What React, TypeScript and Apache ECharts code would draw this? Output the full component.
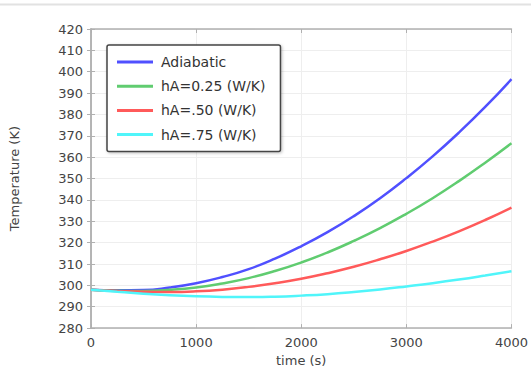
import React, { useEffect, useRef } from "react";
import * as echarts from "echarts";

const times = [0, 250, 500, 750, 1000, 1250, 1500, 1750, 2000, 2250, 2500, 2750, 3000, 3250, 3500, 3750, 4000];
const adiabatic = [298, 297.7, 297.8, 299.0, 301.0, 303.9, 307.6, 312.5, 318.3, 324.9, 332.4, 340.8, 350.2, 360.4, 371.5, 383.5, 396.5];
const hA025 = [298, 297.5, 297.4, 297.9, 299.0, 300.9, 303.4, 306.7, 310.7, 315.4, 320.8, 326.8, 333.5, 340.8, 348.8, 357.4, 366.5];
const hA050 = [298, 297.4, 297.0, 296.9, 297.2, 298.0, 299.3, 301.0, 303.1, 305.7, 308.7, 312.2, 316.1, 320.5, 325.3, 330.6, 336.4];
const hA075 = [298, 297.0, 296.1, 295.4, 294.9, 294.6, 294.5, 294.7, 295.2, 295.9, 296.9, 298.1, 299.5, 301.0, 302.7, 304.6, 306.6];
const seriesNames = ["Adiabatic", "hA=0.25 (W/K)", "hA=.50 (W/K)", "hA=.75 (W/K)"];
const seriesColors = ["#5050ff", "#60cc70", "#ff5a5a", "#50f5fa"];

const FONT = "DejaVu Sans";

export default function App() {
  const ref = useRef<HTMLDivElement>(null);
  useEffect(() => {
    document.body.style.margin = "0";
    const chart = echarts.init(ref.current!, null, { renderer: "svg" });
    const values = [adiabatic, hA025, hA050, hA075];
    const axisLine = { show: true, lineStyle: { color: "#b0b0b0", width: 1.5 } };
    const axisTick = { show: true, inside: true, length: 4, lineStyle: { color: "#b0b0b0" } };
    const label = { color: "#444", fontSize: 13, fontFamily: FONT };
    chart.setOption({
      animation: false,
      backgroundColor: "#fff",
      grid: { left: 89, right: 15, top: 29, bottom: 38 },
      graphic: [
        { type: "line", shape: { x1: 0, y1: 4.5, x2: 531, y2: 4.5 }, style: { stroke: "#e2e2e2", lineWidth: 2 } },
      ],
      xAxis: [
        {
          type: "value", min: 0, max: 4000, interval: 1000, position: "bottom",
          axisLine, axisTick,
          axisLabel: { ...label, margin: 8, formatter: (v: number) => String(v) },
          splitLine: { show: true, lineStyle: { color: "#eeeeee" } },
          name: "time (s)", nameLocation: "middle", nameGap: 22,
          nameTextStyle: { ...label },
        },
        {
          type: "value", min: 0, max: 4000, interval: 1000, position: "top",
          axisLine, axisTick, axisLabel: { show: false }, splitLine: { show: false },
        },
      ],
      yAxis: [
        {
          type: "value", min: 280, max: 420, interval: 10, position: "left",
          axisLine, axisTick,
          axisLabel: { ...label, margin: 8 },
          splitLine: { show: true, lineStyle: { color: "#eeeeee" } },
          name: "Temperature (K)", nameLocation: "middle", nameGap: 70,
          nameTextStyle: { ...label },
        },
        {
          type: "value", min: 280, max: 420, interval: 10, position: "right",
          axisLine, axisTick, axisLabel: { show: false }, splitLine: { show: false },
        },
      ],
      legend: {
        orient: "vertical",
        left: 107, top: 45,
        padding: [10, 15, 10, 10],
        icon: "rect",
        itemWidth: 36, itemHeight: 3, itemGap: 10.2,
        backgroundColor: "#fff",
        borderColor: "#444", borderWidth: 1.5, borderRadius: 2,
        shadowColor: "rgba(0,0,0,0.25)", shadowBlur: 3, shadowOffsetX: 1, shadowOffsetY: 1,
        textStyle: { color: "#333", fontSize: 14, fontFamily: FONT, padding: [0, 0, 0, 3] },
        data: seriesNames,
      },
      series: seriesNames.map((name, i) => ({
        name,
        type: "line",
        xAxisIndex: 0,
        yAxisIndex: 0,
        smooth: true,
        symbol: "none",
        color: seriesColors[i],
        lineStyle: { color: seriesColors[i], width: 2.5 },
        data: times.map((t, j) => [t, values[i][j]]),
      })),
    });
    return () => chart.dispose();
  }, []);
  return <div ref={ref} style={{ width: 531, height: 372 }} />;
}
